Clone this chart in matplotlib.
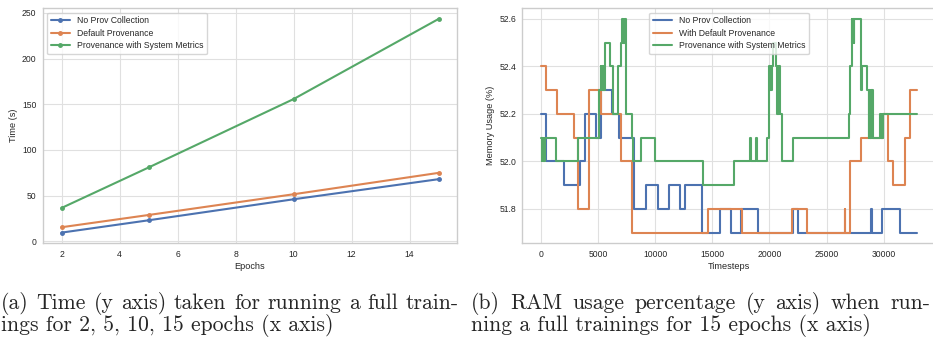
import numpy as np
import matplotlib
matplotlib.use('Agg')
import matplotlib.pyplot as plt
import seaborn as sns

# left panel: wall time per run
epochs = [2, 5, 10, 15]
time_noprov = [9.5, 23.0, 46.0, 68.0]
time_default = [15.4, 28.8, 51.5, 74.9]
time_sysmet = [36.5, 80.8, 155.7, 243.4]
left_labels = ['No Prov Collection', 'Default Provenance', 'Provenance with System Metrics']

# right panel: RAM usage step traces (timestep where value changes, value)
blue_t = [0, 460, 1980, 3380, 3880, 4850, 5280, 6220, 6780, 8120, 9230, 10200, 11200,
          12200, 12640, 14100, 15710, 16590, 17550, 19010, 22050, 22500, 28880, 28960,
          29880, 31400, 32940]
blue_v = [52.2, 52.0, 51.9, 52.0, 52.2, 52.1, 52.3, 52.2, 52.1, 51.8, 51.9, 51.8, 51.9,
          51.8, 51.9, 51.7, 51.8, 51.7, 51.8, 51.7, 51.8, 51.7, 51.8, 51.7,
          51.8, 51.7, 51.7]

orange_t = [0, 460, 1400, 2860, 3240, 4230, 5280, 7035, 7970, 14650, 17580, 21950,
            23330, 26580, 26660, 27070, 28060, 29920, 30380, 30860, 31855, 32295, 32940]
orange_v = [52.4, 52.3, 52.2, 52.1, 51.8, 52.3, 52.2, 52.0, 51.7, 51.8, 51.7, 51.8,
            51.7, 51.8, 51.7, 52.0, 52.1, 52.2, 52.0, 51.9, 52.1, 52.3, 52.3]

green_t = [0, 50, 110, 170, 230, 290, 330, 1340, 3240,
           5050, 5230, 5290, 5350, 5410, 5470, 5530, 5590, 6070, 6270, 6715, 7030,
           7100, 7160, 7220, 7280, 7340, 7400, 7470, 7950, 8050, 8790, 9955, 14160,
           16900, 18335, 18420, 18860, 18950, 19780,
           20000, 20060, 20120, 20180, 20240, 20320, 20610, 20670, 20730, 20790, 20850,
           20910, 21100, 22050, 26950, 27080,
           27200, 27260, 27320, 27380, 27440, 27990, 28050, 28110, 28560,
           28700, 28760, 28820, 28880, 28940, 29000, 29060,
           29700, 29760, 29820, 29880, 29940, 32940]
green_v = [52.1, 52.0, 52.1, 52.0, 52.1, 52.0, 52.1, 52.0, 52.1,
           52.3, 52.4, 52.3, 52.4, 52.3, 52.4, 52.3, 52.5, 52.4, 52.2, 52.4, 52.5,
           52.6, 52.5, 52.6, 52.5, 52.6, 52.5, 52.2, 52.1, 52.0, 52.1, 52.0, 51.9,
           52.0, 52.1, 52.0, 52.1, 52.0, 52.1,
           52.4, 52.3, 52.4, 52.3, 52.4, 52.5, 52.4, 52.2, 52.4, 52.2, 52.4,
           52.2, 52.0, 52.1, 52.2, 52.4,
           52.6, 52.5, 52.6, 52.5, 52.6, 52.4, 52.3, 52.4, 52.3,
           52.1, 52.3, 52.1, 52.3, 52.1, 52.3, 52.1,
           52.2, 52.1, 52.2, 52.1, 52.2, 52.2]
right_labels = ['No Prov Collection', 'With Default Provenance', 'Provenance with System Metrics']

caption_a = ['(a) Time (y axis) taken for running a full train-',
             'ings for 2, 5, 10, 15 epochs (x axis)']
caption_b = ['(b) RAM usage percentage (y axis) when run-',
             'ning a full trainings for 15 epochs (x axis)']

sns.set_theme(style='whitegrid')
plt.rcParams['font.family'] = ['Liberation Sans', 'DejaVu Sans']
plt.rcParams['axes.edgecolor'] = '.8'
plt.rcParams['grid.color'] = '.88'

colors = sns.color_palette('deep')
fs_tick = 6.2
fs_label = 6.6

fig = plt.figure(figsize=(9.33, 3.42), dpi=100)
ax1 = fig.add_axes([0.0458, 0.2886, 0.4444, 0.6871])
ax2 = fig.add_axes([0.5598, 0.2886, 0.4434, 0.6871])

#left panel
for vals, lab, c in zip([time_noprov, time_default, time_sysmet], left_labels, colors):
    ax1.plot(epochs, vals, marker='o', markersize=2.5, linewidth=1.5, color=c, label=lab)
ax1.set_xlabel('Epochs', fontsize=fs_label, labelpad=2.5)
ax1.set_ylabel('Time (s)', fontsize=fs_label, labelpad=3)
ax1.legend(loc='upper left', fontsize=fs_tick, handlelength=2.2, borderpad=0.45,
           labelspacing=0.4, handletextpad=0.8)

#right panel
for t, v, lab, c in zip([blue_t, orange_t, green_t], [blue_v, orange_v, green_v],
                        right_labels, colors):
    ax2.step(t, v, where='post', linewidth=1.5, color=c, label=lab)
ax2.set_xlabel('Timesteps', fontsize=fs_label, labelpad=2.5)
ax2.set_ylabel('Memory Usage (%)', fontsize=fs_label, labelpad=3)
ax2.legend(loc='upper center', fontsize=fs_tick, handlelength=2.2, borderpad=0.45,
           labelspacing=0.4, handletextpad=0.8)

for ax in (ax1, ax2):
    ax.tick_params(labelsize=fs_tick, length=0, pad=4.5)
    for s in ax.spines.values():
        s.set_linewidth(1.0)
    ax.grid(linewidth=0.8)

# captions (first line justified like LaTeX, second line ragged)
W, H = 933, 342
cap_font = dict(family='cmr10', fontsize=15.6, va='baseline')
renderer = fig.canvas.get_renderer()


def justified_line(x0, y0, line, width_px):
    words = line.split(' ')
    texts = [fig.text(0, y0 / H, w, **cap_font) for w in words]
    widths = [t.get_window_extent(renderer).width for t in texts]
    gap = (width_px - sum(widths)) / (len(words) - 1)
    x = x0
    for t, w in zip(texts, widths):
        t.set_x(x / W)
        x += w + gap


justified_line(1, H - 309, caption_a[0], 458)
fig.text(1 / W, 1 - 331 / H, caption_a[1], **cap_font)
justified_line(471, H - 309, caption_b[0], 459)
fig.text(471 / W, 1 - 331 / H, caption_b[1], **cap_font)

fig.savefig('out.png', dpi=100)
